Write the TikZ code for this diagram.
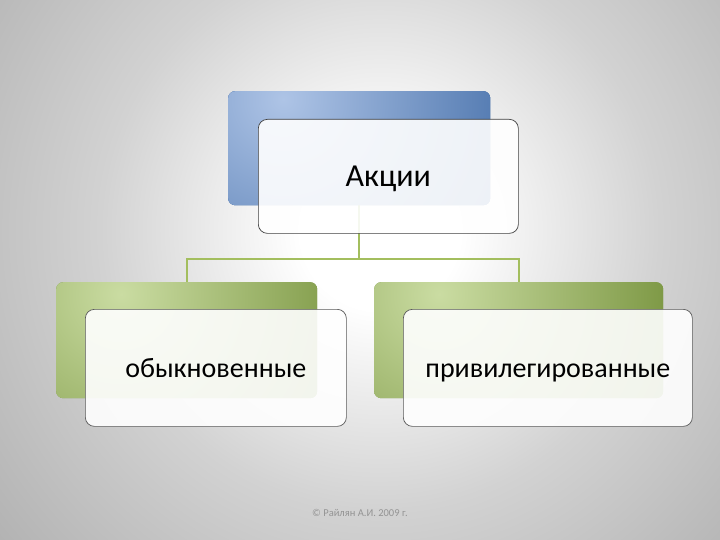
\documentclass[tikz,border=0pt]{standalone}
\usepackage{fontspec}
\setmainfont{Carlito}
\definecolor{blueL}{HTML}{AEC4E6}
\definecolor{blueD}{HTML}{4A73AC}
\definecolor{greenL}{HTML}{CADCA2}
\definecolor{greenD}{HTML}{76923C}
\definecolor{conncol}{HTML}{A3BE5E}
\definecolor{bgmid}{HTML}{D2D2D2}
\definecolor{bgouter}{HTML}{919191}
\pgfdeclareradialshading{bgshade}{\pgfpoint{0bp}{0bp}}{color(0bp)=(white); color(4bp)=(white); color(14bp)=(bgmid); color(36bp)=(bgouter); color(50bp)=(bgouter)}
\tikzset{
  backbox/.style={rounded corners=7bp, inner sep=0pt, anchor=north west},
  bluebox/.style={backbox, fill=blueD, path picture={\shade[inner color=blueL, outer color=blueD] ([shift={(55,8)}]path picture bounding box.north west) circle (240);}},
  greenbox/.style={backbox, fill=greenD, path picture={\shade[inner color=greenL, outer color=greenD] ([shift={(65,12)}]path picture bounding box.north west) circle (250);}},
  frontbox/.style={rounded corners=9bp, inner sep=0pt, anchor=north west, fill=white, fill opacity=0.9, text opacity=1, draw=#1, line width=0.7bp, text height=23bp, text depth=3bp, font=\fontsize{28bp}{32bp}\selectfont},
  conn/.style={draw=conncol, line width=2.2bp},
}
\begin{document}
\begin{tikzpicture}[x=1bp,y=-1bp]
\useasboundingbox (0,0) rectangle (720,540);
\begin{scope}
\clip (0,0) rectangle (720,540);
\fill[bgouter] (0,0) rectangle (720,540);
\shade[shading=bgshade] (380,230) circle (500);
\end{scope}
% back boxes
\node[bluebox, minimum width=262bp, minimum height=114bp] (blue) at (228,91) {};
\node[greenbox, minimum width=261bp, minimum height=116bp] (gl) at (56,282) {};
\node[greenbox, minimum width=289bp, minimum height=116bp] (gr) at (374,282) {};
% connectors
\draw[conn] (blue.south) -- ++(0,54) coordinate (j);
\draw[conn] (j) -| (gl.north);
\draw[conn] (j) -| (gr.north);
% redraw blue box over its part of connector
\node[bluebox, minimum width=262bp, minimum height=114bp] at (228,91) {};
% front boxes
\node[frontbox=black!75, minimum width=260bp, minimum height=114bp, text height=25bp, text depth=4bp, font=\fontsize{32bp}{36bp}\selectfont] (akc) at (258,119) {Акции};
\node[frontbox=black!65, minimum width=261bp, minimum height=117bp] (obyk) at (85,309) {обыкновенные};
\node[frontbox=black!65, minimum width=289bp, minimum height=117bp] (priv) at (403,309) {привилегированные};
% footer
\node[text=black!42, font=\fontsize{10.5bp}{12bp}\selectfont] (foot) at (360,513) {© Райлян А.И. 2009 г.};
\end{tikzpicture}
\end{document}
